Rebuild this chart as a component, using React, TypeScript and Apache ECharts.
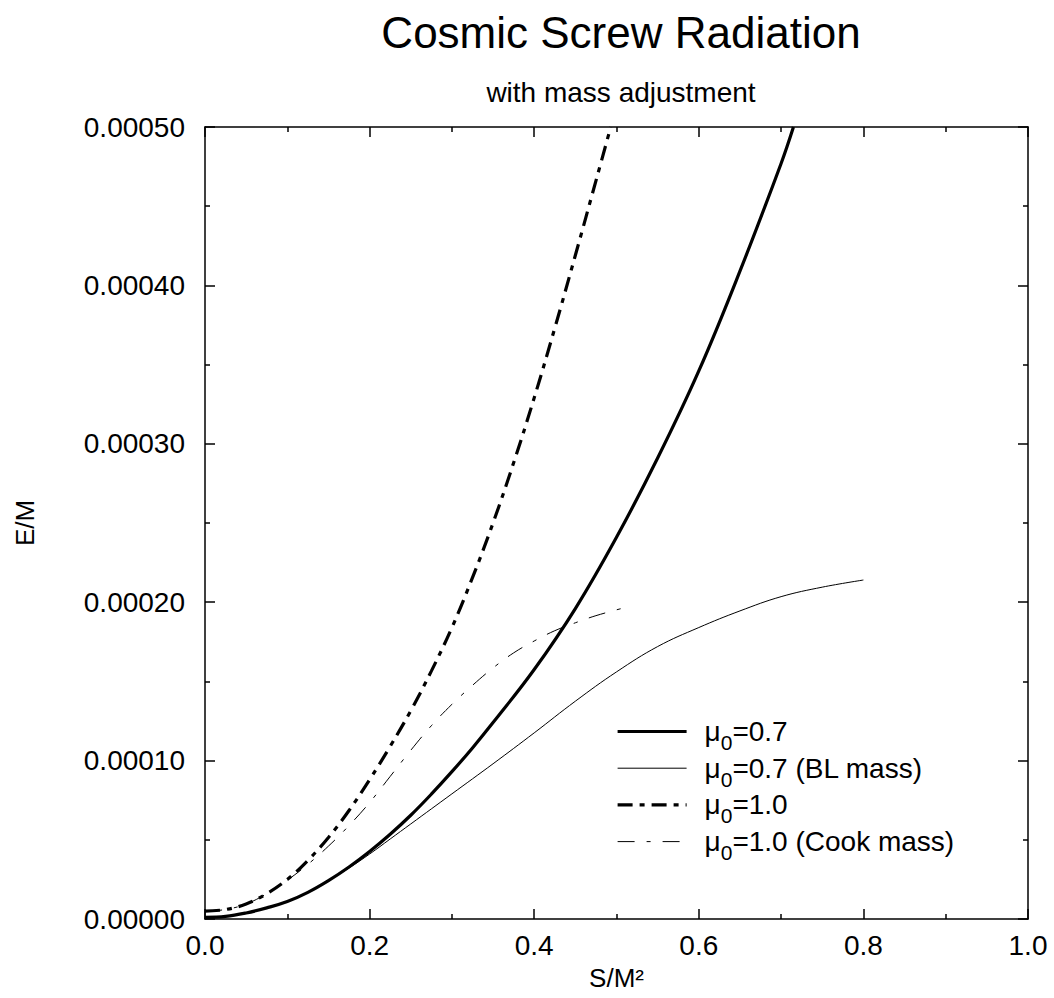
import React, { useEffect, useRef } from "react";
import * as echarts from "echarts";

// ---------- texts ----------
const titleText = "Cosmic Screw Radiation";
const subtitleText = "with mass adjustment";
const xAxisName = "S/M²";
const yAxisName = "E/M";
const seriesNames = ["μ0=0.7", "μ0=0.7 (BL mass)", "μ0=1.0", "μ0=1.0 (Cook mass)"];

// ---------- axis ranges ----------
const xMin = 0;
const xMax = 1;
const xStep = 0.2;
const yMin = 0;
const yMax = 0.0005;
const yStep = 0.0001;

// ---------- data ----------
// mu0 = 0.7 (thick solid)
const xMu07 = [
  0, 0.025, 0.05, 0.075, 0.1, 0.125, 0.15, 0.175, 0.2, 0.225, 0.25, 0.275, 0.3, 0.325, 0.35, 0.4,
  0.45, 0.5, 0.55, 0.6, 0.65, 0.7, 0.715,
];
const yMu07 = [
  0.000001, 0.0000016, 0.0000038, 0.000007, 0.000011, 0.0000168, 0.0000242, 0.0000328, 0.0000426,
  0.0000535, 0.0000655, 0.0000788, 0.000093, 0.0001080, 0.000124, 0.0001575, 0.000196, 0.000241,
  0.000291, 0.000346, 0.000409, 0.000477, 0.0005,
];

// mu0 = 0.7 (BL mass) (thin solid)
const xMu07BL = [
  0, 0.025, 0.05, 0.075, 0.1, 0.125, 0.15, 0.175, 0.2, 0.225, 0.25, 0.3, 0.35, 0.4, 0.45, 0.5,
  0.55, 0.6, 0.65, 0.7, 0.75, 0.8,
];
const yMu07BL = [
  0.000001, 0.0000016, 0.0000038, 0.000007, 0.000011, 0.0000168, 0.0000242, 0.0000322, 0.000041,
  0.0000505, 0.00006, 0.000079, 0.000098, 0.0001175, 0.0001375, 0.000156, 0.000172, 0.000184,
  0.0001945, 0.0002035, 0.0002095, 0.000214,
];

// mu0 = 1.0 (thick dash-dot)
const xMu10 = [
  0, 0.025, 0.05, 0.075, 0.1, 0.125, 0.15, 0.175, 0.2, 0.225, 0.25, 0.275, 0.3, 0.325, 0.35,
  0.375, 0.4, 0.425, 0.45, 0.475, 0.493,
];
const yMu10 = [
  0.000005, 0.000006, 0.0000095, 0.000016, 0.000025, 0.000037, 0.0000515, 0.0000685, 0.000088,
  0.000109, 0.0001315, 0.0001565, 0.000184, 0.0002155, 0.00025, 0.000288, 0.000329, 0.000373,
  0.000419, 0.000466, 0.0005,
];

// mu0 = 1.0 (Cook mass) (thin dash-dot)
const xMu10Cook = [
  0, 0.025, 0.05, 0.075, 0.1, 0.125, 0.15, 0.175, 0.2, 0.225, 0.25, 0.275, 0.3, 0.325, 0.35,
  0.375, 0.4, 0.425, 0.45, 0.475, 0.506,
];
const yMu10Cook = [
  0.000005, 0.000006, 0.0000095, 0.000016, 0.0000245, 0.0000345, 0.000046, 0.000059, 0.0000735,
  0.00009, 0.0001065, 0.000122, 0.0001355, 0.0001475, 0.0001585, 0.000168, 0.0001755, 0.000182,
  0.000187, 0.0001915, 0.000196,
];

const FONT = "'Liberation Sans', Arial, Helvetica, sans-serif";

const pairs = (xs: number[], ys: number[]) => xs.map((x, i) => [x, ys[i]]);

export default function App() {
  const ref = useRef<HTMLDivElement | null>(null);

  useEffect(() => {
    if (!ref.current) return;
    const chart = echarts.init(ref.current, undefined, { renderer: "svg" });

    const black = "#000";
    const axisLine = { show: true, onZero: false, lineStyle: { color: black, width: 1.5 } };
    const axisTick = { show: true, inside: true, length: 10, lineStyle: { color: black, width: 1.5 } };
    const minorTick = { show: true, splitNumber: 2, length: 5, lineStyle: { color: black, width: 1.5 } };

    const xCommon: any = {
      type: "value",
      min: xMin,
      max: xMax,
      interval: xStep,
      axisLine,
      axisTick,
      minorTick,
      splitLine: { show: false },
      minorSplitLine: { show: false },
    };
    const yCommon: any = {
      type: "value",
      min: yMin,
      max: yMax,
      interval: yStep,
      axisLine,
      axisTick,
      minorTick,
      splitLine: { show: false },
      minorSplitLine: { show: false },
    };

    const seriesBase = {
      type: "line",
      symbol: "none",
      showSymbol: false,
      smooth: 0.4,
      silent: true,
      xAxisIndex: 0,
      yAxisIndex: 0,
      itemStyle: { color: black },
      emphasis: { disabled: true },
    };

    chart.setOption({
      animation: false,
      backgroundColor: "#fff",
      textStyle: { fontFamily: FONT },
      grid: { left: 205, right: 26, top: 127, bottom: 79, containLabel: false },
      graphic: [
        {
          type: "text",
          x: 621,
          y: 32,
          style: {
            text: titleText,
            fontSize: 44,
            fontFamily: FONT,
            fill: black,
            textAlign: "center",
            textVerticalAlign: "middle",
          },
        },
        {
          type: "text",
          x: 621,
          y: 92,
          style: {
            text: subtitleText,
            fontSize: 28,
            fontFamily: FONT,
            fill: black,
            textAlign: "center",
            textVerticalAlign: "middle",
          },
        },
      ],
      xAxis: [
        {
          ...xCommon,
          position: "bottom",
          axisLabel: {
            show: true,
            formatter: (v: number) => v.toFixed(1),
            fontSize: 28,
            color: black,
            fontFamily: FONT,
            margin: 12,
          },
          name: xAxisName,
          nameLocation: "middle",
          nameGap: 46,
          nameTextStyle: { fontSize: 26, color: black, fontFamily: FONT },
        },
        { ...xCommon, position: "top", axisLabel: { show: false } },
      ],
      yAxis: [
        {
          ...yCommon,
          position: "left",
          axisLabel: {
            show: true,
            formatter: (v: number) => v.toFixed(5),
            fontSize: 28,
            color: black,
            fontFamily: FONT,
            margin: 20,
          },
          name: yAxisName,
          nameLocation: "middle",
          nameRotate: 90,
          nameGap: 167,
          nameTextStyle: { fontSize: 26, color: black, fontFamily: FONT },
        },
        { ...yCommon, position: "right", axisLabel: { show: false } },
      ],
      legend: {
        orient: "vertical",
        left: 616,
        top: 710,
        padding: 0,
        itemGap: -6.3,
        itemWidth: 69,
        itemHeight: 14,
        selectedMode: false,
        data: seriesNames,
        itemStyle: { opacity: 0 },
        lineStyle: { width: "inherit" },
        formatter: (name: string) => `{m|${name.slice(0, 1)}}{s|${name.slice(1, 2)}}{t|${name.slice(2)}}`,
        textStyle: {
          color: black,
          fontFamily: FONT,
          rich: {
            m: { fontSize: 28, lineHeight: 30, fontFamily: FONT, color: black, padding: [0, 0, 0, 13] },
            s: { fontSize: 21, lineHeight: 10, fontFamily: FONT, color: black, padding: [22, 0, 0, 0] },
            t: { fontSize: 28, lineHeight: 30, fontFamily: FONT, color: black },
          },
        },
      },
      series: [
        {
          ...seriesBase,
          name: seriesNames[0],
          data: pairs(xMu07, yMu07),
          lineStyle: { color: black, width: 3.2, type: "solid" },
          z: 4,
        },
        {
          ...seriesBase,
          name: seriesNames[1],
          data: pairs(xMu07BL, yMu07BL),
          lineStyle: { color: black, width: 1, type: "solid" },
          z: 3,
        },
        {
          ...seriesBase,
          name: seriesNames[2],
          data: pairs(xMu10, yMu10),
          lineStyle: { color: black, width: 3.2, type: [15, 7, 5, 7] },
          z: 4,
        },
        {
          ...seriesBase,
          name: seriesNames[3],
          data: pairs(xMu10Cook, yMu10Cook),
          lineStyle: { color: black, width: 1, type: [17, 12, 4, 12] },
          z: 3,
        },
      ],
    });

    return () => {
      chart.dispose();
    };
  }, []);

  return (
    <div
      ref={ref}
      style={{ position: "absolute", left: 0, top: 0, width: 1054, height: 998, background: "#fff" }}
    />
  );
}
